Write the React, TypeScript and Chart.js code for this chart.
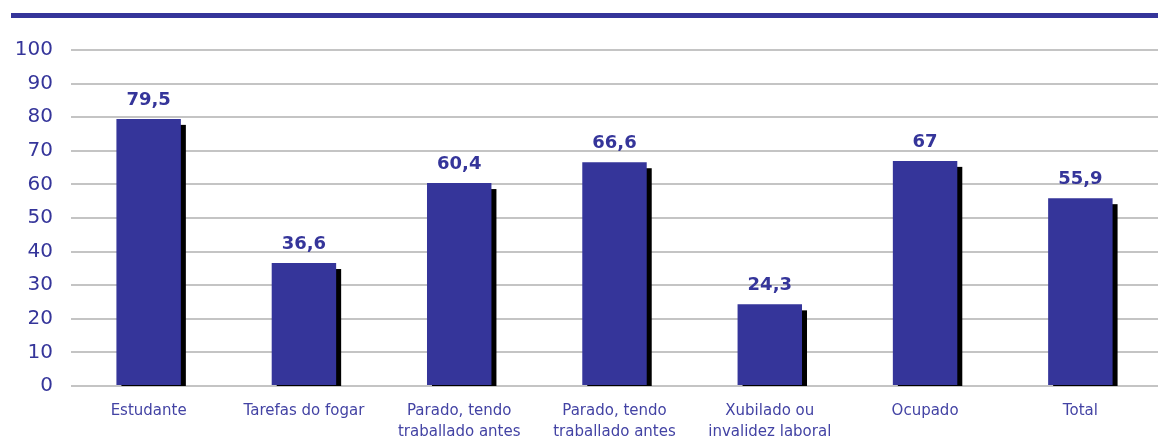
import React, { useEffect, useRef } from "react";
import { Chart, registerables } from "chart.js";

Chart.register(...registerables);

const categories: string[][] = [
  ["Estudante"],
  ["Tarefas do fogar"],
  ["Parado, tendo", "traballado antes"],
  ["Parado, tendo", "traballado antes"],
  ["Xubilado ou", "invalidez laboral"],
  ["Ocupado"],
  ["Total"],
];
const values: number[] = [79.5, 36.6, 60.4, 66.6, 24.3, 67, 55.9];
const valueLabels: string[] = ["79,5", "36,6", "60,4", "66,6", "24,3", "67", "55,9"];
const yTicks: number[] = [0, 10, 20, 30, 40, 50, 60, 70, 80, 90, 100];

const BLUE = "#35359a";
const TEXT_BLUE = "#35359a";
const XLABEL_BLUE = "#4343a4";

const decorPlugin = {
  id: "decor",
  beforeDraw(chart: any) {
    const ctx = chart.ctx;
    ctx.save();
    ctx.fillStyle = "#ffffff";
    ctx.fillRect(0, 0, chart.width, chart.height);
    ctx.fillStyle = BLUE;
    ctx.fillRect(11, 13, chart.width - 11, 5);
    ctx.restore();
  },
  beforeDatasetsDraw(chart: any) {
    const ctx = chart.ctx;
    const meta = chart.getDatasetMeta(0);
    const yScale = chart.scales.y;
    const base = yScale.getPixelForValue(0);
    ctx.save();
    ctx.fillStyle = "#000000";
    meta.data.forEach((bar: any) => {
      const half = bar.width / 2;
      const left = bar.x - half + 5;
      const top = bar.y + 6;
      ctx.fillRect(left, top, half * 2, base - top);
    });
    ctx.restore();
  },
  afterDatasetsDraw(chart: any) {
    const ctx = chart.ctx;
    const meta = chart.getDatasetMeta(0);
    ctx.save();
    ctx.fillStyle = TEXT_BLUE;
    ctx.font = "bold 18px 'DejaVu Sans'";
    ctx.textAlign = "center";
    ctx.textBaseline = "alphabetic";
    meta.data.forEach((bar: any, i: number) => {
      ctx.fillText(valueLabels[i], bar.x, bar.y - 14);
    });
    ctx.restore();
  },
};

export default function App() {
  const ref = useRef<HTMLCanvasElement>(null);
  useEffect(() => {
    document.body.style.margin = "0";
    const chart = new Chart(ref.current!, {
      type: "bar",
      data: {
        labels: categories,
        datasets: [
          {
            data: values,
            backgroundColor: BLUE,
            borderWidth: 0,
            barPercentage: 1,
            categoryPercentage: 0.415,
          },
        ],
      },
      options: {
        animation: false,
        responsive: false,
        maintainAspectRatio: false,
        layout: { padding: { top: 50, left: 0, right: 0, bottom: 0 } },
        plugins: {
          legend: { display: false },
          tooltip: { enabled: false },
        },
        scales: {
          x: {
            grid: { display: false, drawTicks: false },
            border: { display: false },
            ticks: {
              color: XLABEL_BLUE,
              font: { family: "'DejaVu Sans'", size: 15, lineHeight: 1.4 },
              padding: 15,
              maxRotation: 0,
              autoSkip: false,
            },
            afterFit(scale: any) {
              scale.height = 55;
            },
          },
          y: {
            min: 0,
            max: 100,
            afterBuildTicks(scale: any) {
              scale.ticks = yTicks.map((v) => ({ value: v }));
            },
            grid: { color: "#c4c4c4", lineWidth: 2, drawTicks: false },
            border: { display: false },
            ticks: {
              color: TEXT_BLUE,
              font: { family: "'DejaVu Sans'", size: 20 },
              padding: 18,
            },
            afterFit(scale: any) {
              scale.width = 71;
            },
          },
        },
      },
      plugins: [decorPlugin],
    });
    return () => chart.destroy();
  }, []);
  return <canvas ref={ref} width={1158} height={441} style={{ display: "block" }} />;
}
